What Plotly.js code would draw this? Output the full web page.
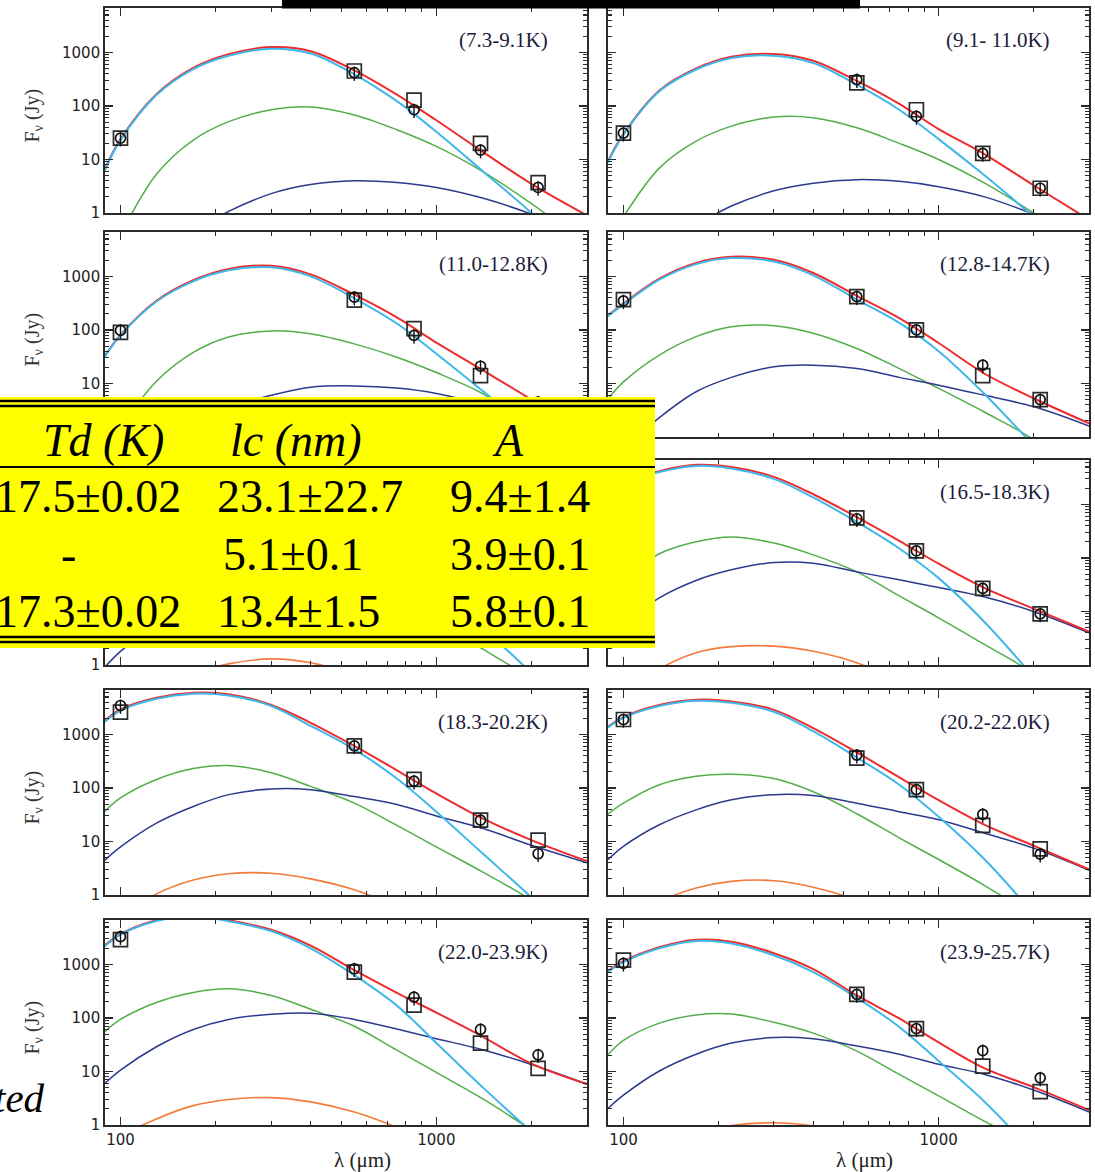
<!DOCTYPE html>
<html>
<head>
<meta charset="utf-8">
<script src="https://cdn.plot.ly/plotly-3.0.1.min.js"></script>
<style>
  html, body { margin: 0; padding: 0; background: #fff; }
  #sed { width: 1095px; height: 1172px; }
</style>
</head>
<body>
<div id="sed"></div>
<script>
// Wavelength grid (micron) on which the model curves are tabulated
const LAMBDA = [89, 100, 130, 170, 220, 300, 400, 550, 750, 1000, 1400, 2000, 3000];
// Photometric bands (micron)
const BANDS = [100, 550, 850, 1380, 2100];

const PANEL_LABELS = ['(7.3-9.1K)', '(9.1- 11.0K)', '(11.0-12.8K)', '(12.8-14.7K)', '(14.7-16.5K)',
                      '(16.5-18.3K)', '(18.3-20.2K)', '(20.2-22.0K)', '(22.0-23.9K)', '(23.9-25.7K)'];

// Total model (red)
const MODEL_TOTAL = [
  [6.4, 24, 166, 513, 922, 1257, 1054, 462, 163, 54, 14, 3.5, 0.9],
  [8.9, 30, 195, 503, 833, 935, 699, 293, 109, 37, 12.5, 3.3, 0.75],
  [32, 81, 352, 850, 1378, 1580, 1094, 455, 171, 58, 17.8, 5.0, 1.1],
  [183, 311, 906, 1782, 2328, 2040, 1160, 434, 167, 57, 15.2, 5.3, 1.8],
  [413, 727, 1876, 3140, 3491, 2686, 1537, 530, 170, 55, 17, 6.8, 2.65],
  [1528, 2551, 4189, 5490, 5007, 3274, 1550, 580, 209, 78, 27.3, 11.3, 4.2],
  [1800, 2950, 4850, 6000, 5650, 3550, 1650, 610, 214, 79, 27, 10.6, 4.3],
  [1367, 2110, 3536, 4455, 4142, 2880, 1310, 460, 158, 59, 20.4, 8.35, 3.0],
  [2250, 3700, 6700, 8300, 6700, 4450, 2250, 780, 295, 126, 45, 14, 5.8],
  [740, 1150, 2100, 2900, 2650, 1620, 820, 263, 98, 35, 11.4, 5.1, 1.9]
];
// Component 1 (light blue)
const MODEL_C1 = [
  [6.2, 23, 160, 490, 870, 1170, 955, 390, 123, 33, 6.1, 1.0, 0.1],
  [8.6, 29, 188, 480, 790, 870, 635, 250, 85, 24, 5.0, 0.85, 0.1],
  [31, 79, 340, 810, 1300, 1480, 1000, 390, 132, 36, 7.3, 1.3, 0.15],
  [178, 300, 870, 1700, 2200, 1900, 1050, 370, 135, 40, 6.3, 0.7, 0.06],
  [400, 700, 1800, 3000, 3300, 2500, 1400, 450, 130, 32, 5, 0.7, 0.05],
  [1500, 2500, 4050, 5250, 4700, 3000, 1350, 470, 150, 42, 6.3, 0.6, 0.035],
  [1700, 2800, 4650, 5750, 5350, 3400, 1450, 525, 150, 36, 6, 0.9, 0.09],
  [1330, 2050, 3400, 4250, 3900, 2650, 1150, 370, 115, 29, 4.6, 0.45, 0.03],
  [2170, 3600, 6450, 8000, 6400, 4200, 2000, 630, 170, 34, 5.1, 0.75, 0.09],
  [710, 1100, 2000, 2750, 2470, 1480, 720, 238, 68, 15.7, 2.7, 0.3, 0.02]
];
// Component 2 (green)
const MODEL_C2 = [
  [0.1, 0.4, 5.3, 23, 51, 85, 96, 68, 36, 17.6, 6, 1.5, 0.25],
  [0.25, 0.85, 6.9, 22, 42, 62, 60, 39, 20, 10, 3.6, 1.0, 0.2],
  [0.5, 1.5, 11, 38, 74, 96, 85, 55, 31, 16, 6.5, 1.7, 0.3],
  [5, 10.7, 34, 75, 115, 120, 87, 45, 19, 8.1, 2.9, 0.9, 0.15],
  [12, 25, 70, 125, 165, 150, 100, 48, 17, 6.5, 2.0, 0.55, 0.1],
  [25, 45, 120, 200, 245, 190, 114, 55, 19.5, 7.6, 2.4, 0.7, 0.12],
  [36, 65, 144, 230, 263, 192, 107, 52, 20, 7.9, 2.7, 0.8, 0.15],
  [32, 52, 115, 165, 180, 150, 85, 33, 11.7, 4.6, 1.5, 0.4, 0.08],
  [55, 94, 195, 300, 350, 263, 145, 70, 25, 9.6, 3.1, 0.8, 0.15],
  [20, 38, 80, 114, 119, 83, 52, 24, 8.8, 3.5, 1.17, 0.4, 0.08]
];
// Component 3 (dark blue)
const MODEL_C3 = [
  [0.05, 0.08, 0.2, 0.45, 1.07, 2.3, 3.4, 4.0, 3.7, 3.0, 1.9, 0.95, 0.35],
  [0.06, 0.1, 0.27, 0.6, 1.35, 2.6, 3.6, 4.2, 3.9, 3.1, 2.0, 0.95, 0.35],
  [0.15, 0.25, 0.7, 1.8, 3.5, 6, 8.5, 9.0, 8.2, 6.5, 4, 2, 0.6],
  [0.35, 0.6, 2.3, 7, 13, 20.5, 22, 19, 13, 9.3, 6, 3.7, 1.6],
  [0.9, 1.8, 6, 15, 26, 35, 36, 31, 23, 16, 10, 5.5, 2.5],
  [3, 6, 18, 38, 60, 82, 80, 55, 39, 28, 18.6, 10, 4],
  [4.4, 7.9, 22, 45, 75, 96, 93, 69, 49, 30, 17.6, 8.5, 4.0],
  [4.5, 8.1, 20.5, 39, 60, 75, 72, 52, 36, 25.5, 14.3, 7.5, 2.9],
  [5.9, 10.6, 29, 61, 94, 117, 123, 94, 62, 41, 25.5, 13.5, 5.8],
  [2.0, 3.6, 10.2, 21, 34, 43, 41, 30, 21, 13.6, 8.8, 4.5, 1.75]
];
// Component 4 (orange), only in the warmer bins
const MODEL_C4 = [
  null, null, null, null,
  [0.1, 0.15, 0.35, 0.7, 1.05, 1.3, 1.1, 0.65, 0.3, 0.12, 0.04, 0.01, 0.003],
  [0.15, 0.3, 0.85, 1.7, 2.2, 2.25, 1.8, 1.1, 0.5, 0.2, 0.06, 0.015, 0.003],
  [0.2, 0.4, 1.05, 1.9, 2.5, 2.55, 2.0, 1.25, 0.6, 0.25, 0.08, 0.02, 0.004],
  [0.15, 0.3, 0.75, 1.35, 1.8, 1.85, 1.4, 0.8, 0.35, 0.13, 0.04, 0.01, 0.002],
  [0.3, 0.6, 1.3, 2.3, 3.0, 3.25, 2.7, 1.75, 0.9, 0.4, 0.13, 0.03, 0.005],
  [0.08, 0.15, 0.4, 0.7, 0.98, 1.1, 0.97, 0.7, 0.35, 0.15, 0.05, 0.01, 0.002]
];
// Measured fluxes (Jy): squares and circles
const OBS_SQUARE = [
  [25, 450, 128, 20, 3.7], [31, 270, 85, 13, 2.9], [90, 360, 106, 14, 4.0],
  [370, 420, 100, 14, 5], [600, 500, 115, 18, 6.5], [2800, 560, 135, 27, 9],
  [2620, 610, 144, 25, 10.6], [1900, 360, 93, 20, 7.3], [2900, 720, 174, 34, 11.4],
  [1200, 275, 63, 12.6, 4.2]
];
const OBS_CIRCLE = [
  [25, 420, 85, 15, 3.0], [31, 310, 64, 13, 2.9], [98, 410, 79, 21, 4.5],
  [350, 420, 100, 22, 5], [620, 480, 105, 20, 7], [2900, 540, 135, 27, 9],
  [3470, 610, 134, 25, 5.9], [1900, 410, 93, 32, 5.8], [3300, 830, 245, 61, 20.5],
  [1050, 275, 63, 24.5, 7.6]
];

// Table contents
const TABLE_HEAD = ['Td (K)', 'lc (nm)', 'A'];
const TABLE_ROWS = [
  ['17.5±0.02', '23.1±22.7', '9.4±1.4'],
  ['-', '5.1±0.1', '3.9±0.1'],
  ['17.3±0.02', '13.4±1.5', '5.8±0.1']
];

const W = 1095, H = 1172;
const px = x => x / W;
const py = y => 1 - y / H;

const COL_X = [[105, 587], [608, 1089]];
const ROW_Y = [[8, 213], [232, 437], [460, 665], [690, 895], [920, 1125]];

const COLORS = { total: '#ee2c2c', c1: '#3fb7ea', c2: '#52ae49', c3: '#2b3a8f', c4: '#f47a3a' };
const AX = '#2a2a2a';
const TICKFONT = { family: 'DejaVu Sans, Arial, sans-serif', size: 15, color: '#222' };
const SERIF = 'Liberation Serif, Times New Roman, serif';

const xMinor = [200, 300, 400, 500, 600, 700, 800, 900, 2000, 3000];
const yMinor = [];
[1, 10, 100, 1000].forEach(d => { for (let k = 2; k <= 9; k++) if (d * k < 7000) yMinor.push(d * k); });

const traces = [];
const layout = {
  width: W, height: H,
  margin: { l: 0, r: 0, t: 0, b: 0 },
  paper_bgcolor: '#fff', plot_bgcolor: '#fff',
  showlegend: false,
  annotations: [], shapes: []
};

function curve(i, ys, color, width) {
  return {
    x: LAMBDA, y: ys, xaxis: 'x' + (i + 1), yaxis: 'y' + (i + 1),
    type: 'scatter', mode: 'lines',
    line: { color: color, width: width, shape: 'spline', smoothing: 1 },
    hoverinfo: 'skip'
  };
}

for (let i = 0; i < 10; i++) {
  const r = Math.floor(i / 2), c = i % 2;
  const n = i + 1;
  const [x0, x1] = COL_X[c];
  const [yt, yb] = ROW_Y[r];
  const common = {
    type: 'log', showgrid: false, zeroline: false,
    showline: true, linecolor: AX, linewidth: 1.8, mirror: 'ticks',
    ticks: 'inside', ticklen: 8, tickwidth: 1.4, tickcolor: AX,
    tickfont: TICKFONT
  };
  // decades whose labels would sit underneath the table are left out
  let yVals = [1, 10, 100, 1000];
  if (c === 0 && r === 1) yVals = [10, 100, 1000];
  if (c === 0 && r === 2) yVals = [1];

  layout['xaxis' + (i === 0 ? '' : n)] = Object.assign({}, common, {
    domain: [px(x0), px(x1)], range: [1.951, 3.477], anchor: 'y' + n,
    tickvals: [100, 1000], ticktext: ['100', '1000'],
    showticklabels: r === 4,
    minor: { tickvals: xMinor, ticks: 'inside', ticklen: 4, tickwidth: 1.1, tickcolor: AX, showgrid: false }
  });
  layout['yaxis' + (i === 0 ? '' : n)] = Object.assign({}, common, {
    domain: [py(yb), py(yt)], range: [0, 3.83], anchor: 'x' + n,
    tickvals: yVals, ticktext: yVals.map(String),
    showticklabels: c === 0,
    minor: { tickvals: yMinor, ticks: 'inside', ticklen: 4, tickwidth: 1.1, tickcolor: AX, showgrid: false }
  });

  traces.push(curve(i, MODEL_C2[i], COLORS.c2, 1.5));
  traces.push(curve(i, MODEL_C3[i], COLORS.c3, 1.5));
  if (MODEL_C4[i]) traces.push(curve(i, MODEL_C4[i], COLORS.c4, 1.6));
  traces.push(curve(i, MODEL_TOTAL[i], COLORS.total, 2));
  traces.push(curve(i, MODEL_C1[i], COLORS.c1, 2));

  traces.push({
    x: BANDS, y: OBS_SQUARE[i], xaxis: 'x' + n, yaxis: 'y' + n,
    type: 'scatter', mode: 'markers', hoverinfo: 'skip',
    marker: { symbol: 'square-open', size: 14, color: '#2a2a2a', line: { width: 1.7, color: '#2a2a2a' } }
  });
  traces.push({
    x: BANDS, y: OBS_CIRCLE[i], xaxis: 'x' + n, yaxis: 'y' + n,
    type: 'scatter', mode: 'markers', hoverinfo: 'skip',
    marker: { symbol: 'circle-open', size: 10, color: '#111', line: { width: 1.7, color: '#111' } },
    error_y: { type: 'percent', value: 30, color: '#111', thickness: 1.4, width: 0 }
  });

  // bin label
  if (i !== 4) {
    layout.annotations.push({
      xref: 'paper', yref: 'paper', x: px(x1 - 37), y: py(yt + 32),
      xanchor: 'right', yanchor: 'middle', showarrow: false,
      text: PANEL_LABELS[i], font: { family: SERIF, size: 21, color: '#1c1c3a' }
    });
  }
  // vertical axis title on the left column
  if (c === 0 && r !== 2) {
    layout.annotations.push({
      xref: 'paper', yref: 'paper', x: px(33), y: py((yt + yb) / 2 + 5),
      xanchor: 'center', yanchor: 'middle', showarrow: false, textangle: -90,
      text: 'F<sub>ν</sub> (Jy)', font: { family: SERIF, size: 20, color: '#333' }
    });
  }
  // horizontal axis title on the bottom row
  if (r === 4) {
    layout.annotations.push({
      xref: 'paper', yref: 'paper', x: px((x0 + x1) / 2 + 16), y: py(1160),
      xanchor: 'center', yanchor: 'middle', showarrow: false,
      text: 'λ (μm)', font: { family: SERIF, size: 21, color: '#222' }
    });
  }
}

// black strip along the top edge
layout.shapes.push({ type: 'rect', xref: 'paper', yref: 'paper', layer: 'above',
  x0: px(282), x1: px(860), y0: py(8.5), y1: py(0), fillcolor: '#000', line: { width: 0 } });

// yellow parameter table
layout.shapes.push({ type: 'rect', xref: 'paper', yref: 'paper', layer: 'above',
  x0: px(0), x1: px(655), y0: py(648), y1: py(397), fillcolor: '#ffff00', line: { width: 0 } });
[[401, 2.6], [406, 2.6], [467, 2], [637, 2.6], [642, 2.6]].forEach(([y, w]) => {
  layout.shapes.push({ type: 'line', xref: 'paper', yref: 'paper', layer: 'above',
    x0: px(0), x1: px(655), y0: py(y), y1: py(y), line: { color: '#000', width: w } });
});

const TFONT = { family: SERIF, size: 46, color: '#000' };
const headX = [103, 296, 508];
TABLE_HEAD.forEach((t, k) => {
  layout.annotations.push({ xref: 'paper', yref: 'paper', x: px(headX[k]), y: py(440),
    xanchor: 'center', yanchor: 'middle', showarrow: false, text: '<i>' + t + '</i>', font: TFONT });
});
const rowY = [497, 554, 611];
TABLE_ROWS.forEach((row, j) => {
  // first column right-aligned (dash centred), others left-aligned
  if (row[0] === '-') {
    layout.annotations.push({ xref: 'paper', yref: 'paper', x: px(68), y: py(rowY[j]),
      xanchor: 'center', yanchor: 'middle', showarrow: false, text: row[0], font: TFONT });
  } else {
    layout.annotations.push({ xref: 'paper', yref: 'paper', x: px(183), y: py(rowY[j]),
      xanchor: 'right', yanchor: 'middle', showarrow: false, text: row[0], font: TFONT });
  }
  layout.annotations.push({ xref: 'paper', yref: 'paper', x: px(j === 1 ? 221 : 215), y: py(rowY[j]),
    xanchor: 'left', yanchor: 'middle', showarrow: false, text: row[1], font: TFONT });
  layout.annotations.push({ xref: 'paper', yref: 'paper', x: px(448), y: py(rowY[j]),
    xanchor: 'left', yanchor: 'middle', showarrow: false, text: row[2], font: TFONT });
});

// fragment of running text at the lower left
layout.annotations.push({ xref: 'paper', yref: 'paper', x: px(47), y: py(1098),
  xanchor: 'right', yanchor: 'middle', showarrow: false, text: '<i>ted</i>',
  font: { family: SERIF, size: 41, color: '#000' } });

Plotly.newPlot('sed', traces, layout, { staticPlot: true, displayModeBar: false });
</script>
</body>
</html>
